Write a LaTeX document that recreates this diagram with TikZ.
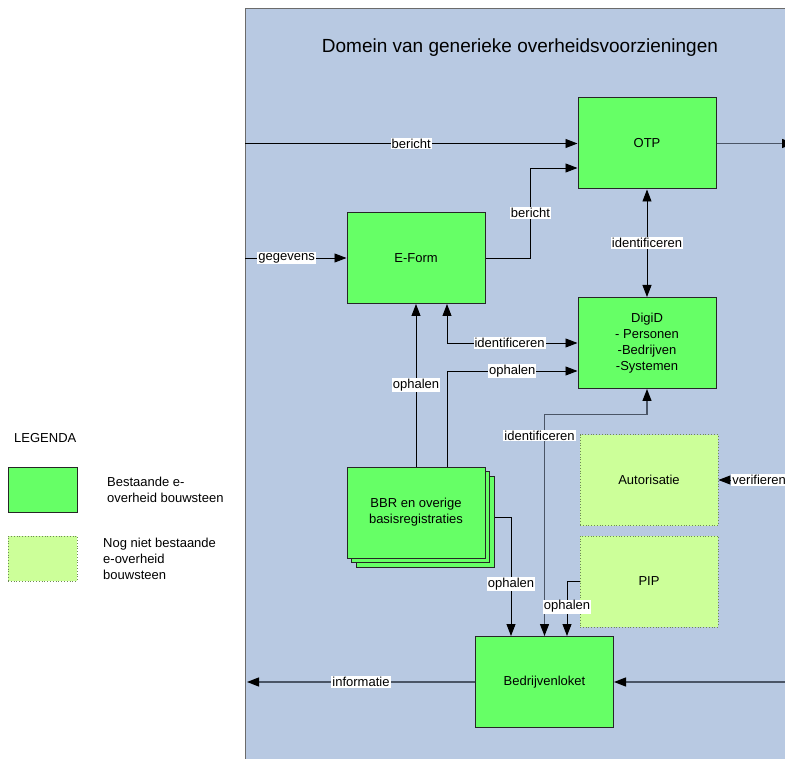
\documentclass[tikz,border=0pt]{standalone}
\usepackage{fontspec}
\setmainfont{Liberation Sans}
\usetikzlibrary{arrows.meta,shadows,calc}
\definecolor{dombg}{HTML}{B8C9E2}
\definecolor{domborder}{HTML}{6B6B6B}
\definecolor{exgreen}{HTML}{66FF66}
\definecolor{newgreen}{HTML}{CCFF99}
\definecolor{newborder}{HTML}{6E8A55}
\definecolor{linegray}{HTML}{4A5566}
\begin{document}
\begin{tikzpicture}[x=1pt,y=-1pt,
  tip/.tip={Triangle[length=12pt,width=9pt,color=black]},
  box/.style={draw=black!85, line width=1pt, fill=exgreen, minimum width=138pt, minimum height=91pt, inner sep=0pt, font=\fontsize{13}{16}\selectfont, align=center},
  newbox/.style={draw=newborder, dotted, line width=0.8pt, fill=newgreen, minimum width=138pt, minimum height=91pt, inner sep=0pt, font=\fontsize{13}{16}\selectfont, align=center},
  legbox/.style={draw=black!85, line width=1pt, fill=exgreen, minimum width=69pt, minimum height=45pt, inner sep=0pt},
  legnew/.style={draw=newborder, dotted, line width=0.8pt, fill=newgreen, minimum width=69pt, minimum height=45pt, inner sep=0pt},
  legtxt/.style={anchor=west, align=left, inner sep=0pt, font=\fontsize{13}{16}\selectfont},
  lbl/.style={fill=white, inner sep=1pt, font=\fontsize{13}{14}\selectfont},
  arr/.style={draw=black, line width=0.9pt, -tip},
  dbl/.style={draw=black, line width=0.9pt, tip-tip},
  garr/.style={draw=linegray, line width=1.3pt, -tip},
  gdbl/.style={draw=linegray, line width=1.3pt, tip-tip}]
\useasboundingbox (0,0) rectangle (785,759);
\clip (0,0) rectangle (785,759);
\fill[white] (0,0) rectangle (785,759);

% domain
\draw[draw=domborder, line width=1.5pt, fill=dombg] (245.5,8.5) rectangle (820,820);
\node[font=\fontsize{19}{22}\selectfont] (title) at (520,48) {Domein van generieke overheidsvoorzieningen};

% nodes
\node[box] (otp) at (647,143.5) {OTP};
\node[box] (eform) at (416,258) {E-Form};
\node[box] (digid) at (647,343) {DigiD\\- Personen\\-Bedrijven\\-Systemen};
\node[newbox] (auth) at (649,480) {Autorisatie};
\node[newbox] (pip) at (649,581.5) {PIP};
\node[box, double copy shadow={shadow xshift=4.5pt, shadow yshift=-4.5pt}] (bbr) at (416,512.5) {BBR en overige\\basisregistraties};
\node[box] (bl) at (544.5,682) {Bedrijvenloket};

% free ends
\coordinate (inBericht) at (245,143.5);
\coordinate (inGegevens) at (245,258);
\coordinate (outOtp) at (794,143.5);
\coordinate (outVer) at (794,480);
\coordinate (outInfo) at (247,682);
\coordinate (inRight) at (800,682);

% connectors
\draw[arr] (inBericht) -- node[lbl]{bericht} (otp.west);
\draw[garr] (otp.east) -- (outOtp);
\draw[arr] (inGegevens) -- node[lbl,pos=0.41]{gegevens} (eform.west);
\draw[arr] (eform.east) -- ++(45,0) -- node[lbl]{bericht} ++(0,-90) -- ($(otp.west)+(0,24.5)$);
\draw[dbl] (otp.south) -- node[lbl]{identificeren} (digid.north);
\draw[dbl] ($(eform.south)+(31,0)$) |- node[lbl,pos=0.74]{identificeren} (digid.west);
\draw[arr] (bbr.north) -- node[lbl]{ophalen} (eform.south);
\draw[arr] ($(bbr.north)+(31,0)$) |- node[lbl,pos=0.75]{ophalen} ($(digid.west)+(0,28)$);
\draw[gdbl] (bl.north) -- node[lbl,pos=0.905,xshift=-5pt]{identificeren} ++(0,-221.5) -| (digid.south);
\draw[dbl] (auth.east) -- node[lbl,pos=0.54]{verifieren} (outVer);
\draw[arr] ($(bbr.east)+(9,4.5)$) -| node[lbl,pos=0.78]{ophalen} ($(bl.north)+(-33.5,0)$);
\draw[arr] (pip.west) -| node[lbl,pos=0.73]{ophalen} ($(bl.north)+(22.5,0)$);
\draw[garr] (bl.west) -- node[lbl]{informatie} (outInfo);
\draw[garr] (inRight) -- (bl.east);

% legend
\node[anchor=west, inner sep=0pt, font=\fontsize{13}{16}\selectfont] (legtitle) at (14,438) {LEGENDA};
\node[legbox] (leg1) at (42.5,489.5) {};
\node[legtxt] (leg1t) at (107,489.5) {Bestaande e-\\overheid bouwsteen};
\node[legnew] (leg2) at (42.5,558.5) {};
\node[legtxt] (leg2t) at (103,558.5) {Nog niet bestaande\\e-overheid\\bouwsteen};
\end{tikzpicture}
\end{document}
